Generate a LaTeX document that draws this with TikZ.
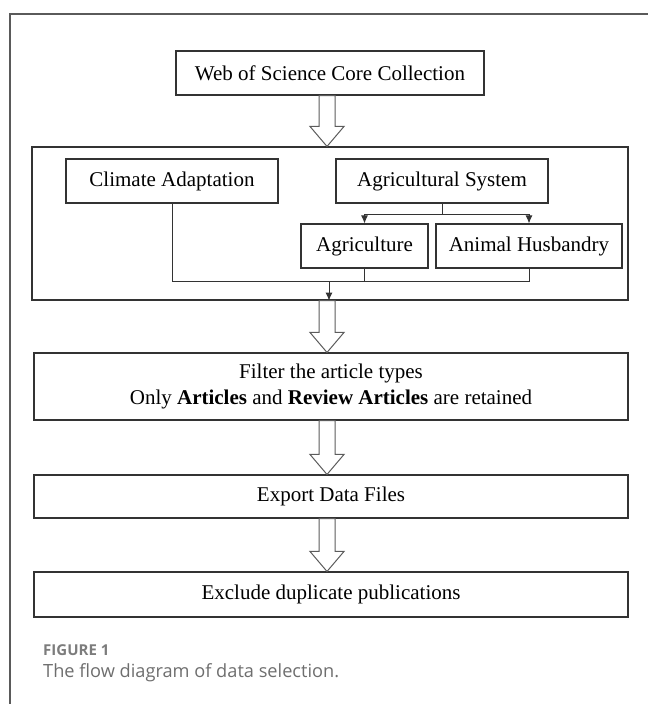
\documentclass[tikz,border=0pt]{standalone}
\usepackage{fontspec}
\setmainfont{Liberation Serif}
\newfontfamily\captionfont{Open Sans}
\usetikzlibrary{calc,arrows.meta}
\definecolor{rahmen}{HTML}{5A5A5A}
\definecolor{linie}{HTML}{333333}
\definecolor{beschr}{HTML}{6E6E6E}

% breiter Hohlpfeil zwischen zwei Kaesten
\newcommand{\hohlpfeil}[2]{%
  \draw[hollow] let \p0=(achse), \p1=(#1.south), \p2=(#2.north) in
    (\x0-8pt,\y1) -- (\x0-8pt,\y2+20pt) -- (\x0-17pt,\y2+20pt) -- (\x0,\y2)
    -- (\x0+17pt,\y2+20pt) -- (\x0+8pt,\y2+20pt) -- (\x0+8pt,\y1) -- cycle;}

\begin{document}
\begin{tikzpicture}[
    x=1pt, y=-1pt,
    box/.style={rectangle, draw=linie, line width=1.1pt, minimum height=44pt, inner sep=0pt, align=center, font=\fontsize{21}{26}\selectfont},
    hollow/.style={draw=linie!80, line width=1pt, fill=white},
    link/.style={draw=linie, line width=1pt},
    >={Latex[length=8pt,width=7pt]}
]
\useasboundingbox (0,0) rectangle (648,704);

% Rahmen
\draw[rahmen, line width=1.3pt] (10,704) -- (10,14) -- (648,14);
\coordinate (achse) at (327,0);

% Datenbank
\node[box, minimum width=308pt] at (330,73) (wos) {Web of Science Core Collection};

% Suchbegriffe
\node[box, minimum width=596pt, minimum height=153pt] at (330,223.5) (search) {};
\node[box, minimum width=212pt] at (172,181) (climate) {Climate Adaptation};
\node[box, minimum width=212pt] at (442,181) (agsys) {Agricultural System};
\node[box, minimum width=127pt] at (364.5,246) (agri) {Agriculture};
\node[box, minimum width=186pt] at (529,246) (husb) {Animal Husbandry};

% Verzweigung
\draw[link, ->] (agsys.south) -- ++(0,11) -| (agri.north);
\draw[link, ->] (agsys.south) -- ++(0,11) -| (husb.north);

% Zusammenfuehrung
\coordinate (sammel) at (329,281);
\draw[link] (climate.south) |- (sammel);
\draw[link] (agri.south) |- (sammel);
\draw[link] (husb.south) |- (sammel);
\draw[link, ->] (sammel) -- (sammel |- search.south);

% weitere Schritte
\node[box, minimum width=594pt, minimum height=67pt] at (331,386.5) (filter) {Filter the article types\\Only \textbf{Articles} and \textbf{Review Articles} are retained};
\node[box, minimum width=594pt, minimum height=43pt] at (331,496.5) (export) {Export Data Files};
\node[box, minimum width=594pt, minimum height=45pt] at (331,594.5) (exclude) {Exclude duplicate publications};

% Hohlpfeile
\hohlpfeil{wos}{search}
\hohlpfeil{search}{filter}
\hohlpfeil{filter}{export}
\hohlpfeil{export}{exclude}

% Bildunterschrift
\node[anchor=base west, inner sep=0pt, text=beschr!90, font=\captionfont\bfseries\fontsize{15}{18}\selectfont] at (43,655) (figlabel) {FIGURE 1};
\node[anchor=base west, inner sep=0pt, text=beschr, font=\captionfont\fontsize{18.2}{22}\selectfont] at (43,677) (figtext) {The flow diagram of data selection.};
\end{tikzpicture}
\end{document}
